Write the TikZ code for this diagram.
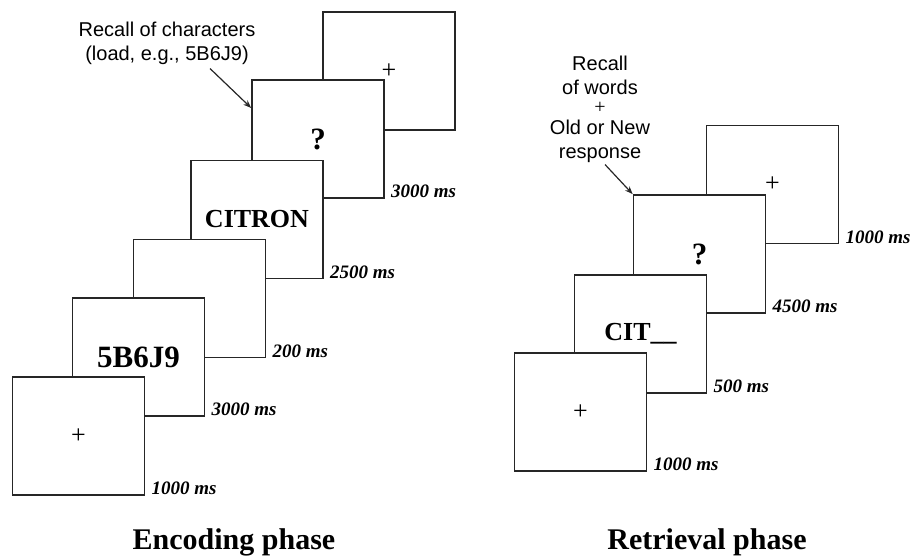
\documentclass[tikz,border=0pt]{standalone}
\usepackage{fontspec}
\setmainfont{Liberation Serif}
\setsansfont{Liberation Sans}
\usetikzlibrary{arrows.meta}

\begin{document}
\begin{tikzpicture}[x=1pt,y=-1pt]
\tikzstyle{screen}=[rectangle,draw=black!85,line width=1.6pt,fill=white,minimum width=132pt,minimum height=118pt,inner sep=0pt,font=\fontsize{26}{30}\selectfont\bfseries]
\tikzstyle{fix}=[screen,font=\fontsize{26}{30}\selectfont]
\tikzstyle{quest}=[screen,font=\fontsize{31}{34}\selectfont\bfseries]
\tikzstyle{ms}=[anchor=west,inner sep=0pt,font=\fontsize{19}{22}\selectfont\bfseries\itshape]
\tikzstyle{note}=[align=center,inner sep=2pt,font=\fontsize{20}{24}\selectfont\sffamily]
\tikzstyle{phase}=[anchor=base,font=\fontsize{30}{36}\selectfont\bfseries]
\tikzstyle{pointer}=[draw=black!85,line width=1.2pt,-{Stealth[length=8pt,width=6pt]}]
\useasboundingbox (0,0) rectangle (912,556);
% encoding phase, back to front
\node[fix] (enc6) at (389,71) {+};
\node[quest] (enc5) at (318,139) {?};
\node[screen] (enc4) at (257,219.5) {CITRON};
\node[screen] (enc3) at (199.5,298.5) {};
\node[screen,font=\fontsize{31}{34}\selectfont\bfseries] (enc2) at (138.5,357) {5B6J9};
\node[fix] (enc1) at (78.5,436) {+};
\node[ms] (t5) at ([xshift=6pt,yshift=7.5pt]enc5.south east) {3000 ms};
\node[ms] (t4) at ([xshift=6pt,yshift=7.5pt]enc4.south east) {2500 ms};
\node[ms] (t3) at ([xshift=6pt,yshift=7.5pt]enc3.south east) {200 ms};
\node[ms] (t2) at ([xshift=6pt,yshift=7.5pt]enc2.south east) {3000 ms};
\node[ms] (t1) at ([xshift=6pt,yshift=7.5pt]enc1.south east) {1000 ms};
\node[note] (encnote) at (167,43) {Recall of characters\\(load, e.g., 5B6J9)};
\draw[pointer] ([xshift=43pt,yshift=-2pt]encnote.south) -- ([yshift=31pt]enc5.west);
\node[phase] (encphase) at (234,549) {Encoding phase};
% retrieval phase, back to front
\node[fix] (ret4) at (772.5,184.5) {+};
\node[quest] (ret3) at (699.5,254) {?};
\node[screen] (ret2) at (640.5,334) {CIT\_\_};
\node[fix] (ret1) at (580.5,412) {+};
\node[ms] (r4) at ([xshift=6pt,yshift=7.5pt]ret4.south east) {1000 ms};
\node[ms] (r3) at ([xshift=6pt,yshift=7.5pt]ret3.south east) {4500 ms};
\node[ms] (r2) at ([xshift=6pt,yshift=7.5pt]ret2.south east) {500 ms};
\node[ms] (r1) at ([xshift=6pt,yshift=7.5pt]ret1.south east) {1000 ms};
\node[note] (retnote) at (600,109) {Recall\\of words\\[-5pt]{\fontsize{20}{20}\selectfont\rmfamily +}\\[-3pt]Old or New\\response};
\draw[pointer] ([xshift=5pt]retnote.south) -- (ret3.north west);
\node[phase] (retphase) at (707,549) {Retrieval phase};
\end{tikzpicture}
\end{document}
